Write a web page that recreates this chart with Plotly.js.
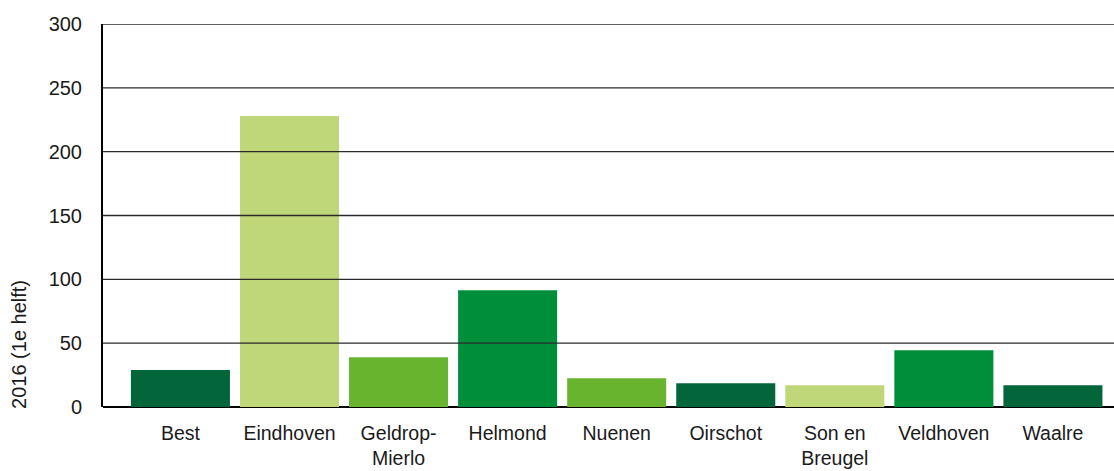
<!DOCTYPE html>
<html>
<head>
<meta charset="utf-8">
<script src="https://cdn.plot.ly/plotly-3.0.1.min.js"></script>
<style>html,body{margin:0;padding:0;background:#fff}#chart{width:1114px;height:471px}</style>
</head>
<body>
<div id="chart"></div>
<script>
var categories = ["Best", "Eindhoven", "Geldrop-<br>Mierlo", "Helmond", "Nuenen", "Oirschot", "Son en<br>Breugel", "Veldhoven", "Waalre"];
var values = [29, 228, 39, 91.5, 22.5, 18.6, 17, 44.4, 17];
var barColors = ["#03663a", "#bfd679", "#69b42f", "#008e3a", "#69b42f", "#03663a", "#bfd679", "#008e3a", "#03663a"];
var yTicks = [0, 50, 100, 150, 200, 250, 300];
var yTitle = "2016 (1e helft)";

var gridShapes = yTicks.filter(function(v){return v > 0;}).map(function(v){
  return {type:'line', xref:'paper', x0:0, x1:1, yref:'y', y0:v, y1:v,
          line:{color:'#2a2a2a', width:1.3}, layer:'above'};
});

var trace = {
  type: 'bar',
  x: categories,
  y: values,
  marker: {color: barColors, line: {width: 0}},
  hoverinfo: 'x+y'
};

var layout = {
  width: 1114, height: 471,
  margin: {l: 103, r: 0, t: 24, b: 64},
  paper_bgcolor: '#fff', plot_bgcolor: '#fff',
  font: {family: 'Liberation Sans, Arial, sans-serif', color: '#1a1a1a'},
  bargap: 0.092,
  showlegend: false,
  xaxis: {
    range: [-0.71, 8.56],
    showgrid: false, zeroline: false, showline: false,
    ticks: '', tickfont: {size: 19.5, color: '#1a1a1a'},
    ticklabelstandoff: 12, tickangle: 0
  },
  yaxis: {
    range: [0, 300],
    tickvals: yTicks, ticktext: yTicks.map(String),
    showgrid: false, zeroline: true, zerolinecolor: '#000', zerolinewidth: 2.5,
    showline: true, linecolor: '#000', linewidth: 2,
    ticks: '', tickfont: {size: 20, color: '#1a1a1a'},
    ticklabelstandoff: 15
  },
  annotations: [{
    text: yTitle, textangle: -90, showarrow: false,
    xref: 'paper', x: 0, xanchor: 'center', xshift: -84,
    yref: 'paper', y: 0.162, yanchor: 'middle',
    font: {size: 20, color: '#1a1a1a'}
  }],
  shapes: gridShapes
};

Plotly.newPlot('chart', [trace], layout, {displayModeBar: false, staticPlot: true});
</script>
</body>
</html>
